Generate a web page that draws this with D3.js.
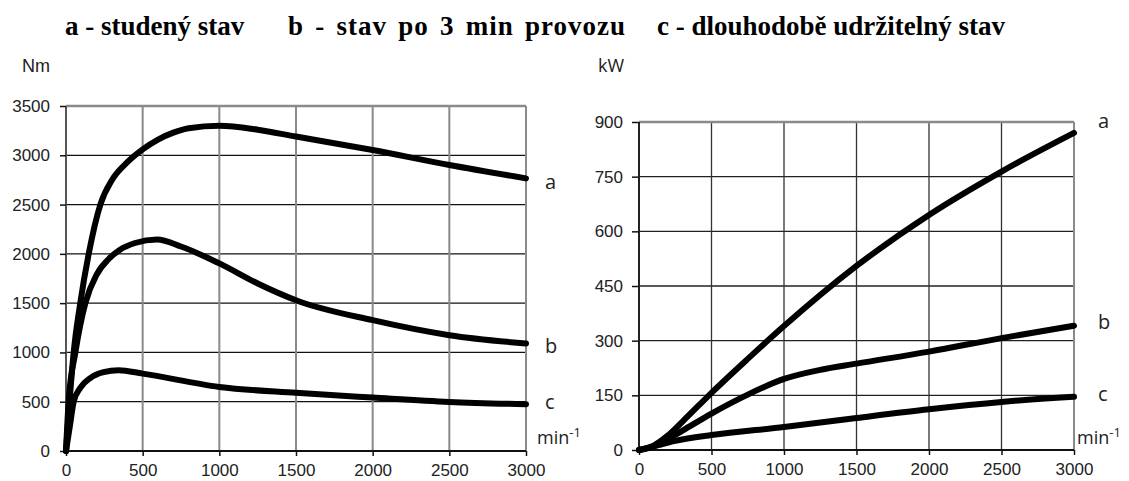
<!DOCTYPE html>
<html>
<head>
<meta charset="utf-8">
<script src="https://cdn.jsdelivr.net/npm/d3@7"></script>
<style>
  body { margin: 0; background: #fff; }
  .tick text { font-family: "Liberation Sans", Arial, sans-serif; font-size: 17px; fill: #222; }
  .unit { font-size: 18px; fill: #222; }
  .lbl { font-family: "Open Sans", sans-serif; font-size: 20px; fill: #222; }
  .title { font-family: "Liberation Serif", "Times New Roman", serif; font-weight: bold; font-size: 27px; fill: #000; }
</style>
</head>
<body>
<div id="chart"></div>
<script>
// data
var rpmTicks = [0, 500, 1000, 1500, 2000, 2500, 3000];
var torqueTicks = [0, 500, 1000, 1500, 2000, 2500, 3000, 3500];
var powerTicks = [0, 150, 300, 450, 600, 750, 900];

var titles = ["a - studený stav", "b - stav po 3 min provozu", "c - dlouhodobě udržitelný stav"];
var seriesNames = ["a", "b", "c"];

// torque [rpm, Nm]
var torqueA = [[0,0],[23,500],[50,1000],[93,1500],[148,2000],[224,2500],[300,2750],[400,2930],[500,3060],[600,3160],[700,3230],[800,3275],[1000,3300],[1250,3260],[1500,3190],[2000,3053],[2500,2901],[3000,2766]];
var torqueB = [[0,0],[17,500],[61,1000],[126,1500],[200,1790],[280,1950],[350,2040],[450,2110],[594,2146],[750,2075],[1000,1903],[1250,1700],[1500,1530],[2000,1327],[2500,1175],[3000,1090]];
var torqueC = [[0,0],[25,250],[50,500],[93,640],[158,740],[245,800],[343,820],[500,785],[1000,650],[1500,590],[2000,542],[2500,498],[3000,474]];

// power [rpm, kW]
var powerA = [[0,0],[100,12],[200,40],[300,78],[500,157],[750,250],[1000,340],[1500,505],[2000,645],[2500,764],[3000,870]];
var powerB = [[0,0],[100,9],[200,30],[300,53],[500,100],[750,152],[1000,195],[1250,220],[1500,237],[2000,270],[2500,307],[3000,341]];
var powerC = [[0,0],[100,10],[250,25],[500,41],[1000,63],[1500,88],[2000,112],[2500,132],[3000,146]];

var svgWidth = 1129;
var svgHeight = 481;

var svg = d3
  .select("#chart")
  .append("svg")
  .attr("width", svgWidth)
  .attr("height", svgHeight);

// title line, three parts (middle one is set a bit looser in the picture)
var titleX = [65, 288, 657];
var titleLetterGap = [0, 1, 0];
var titleWordGap = [0, 3.5, 0];
svg.selectAll("text.title")
  .data(titles)
  .enter()
  .append("text")
  .attr("class", "title")
  .attr("x", function(d, i) { return titleX[i]; })
  .attr("y", 35)
  .style("letter-spacing", function(d, i) { return titleLetterGap[i] + "px"; })
  .style("word-spacing", function(d, i) { return titleWordGap[i] + "px"; })
  .text(function(d) { return d; });

function drawPanel(opt) {
  var x = d3.scaleLinear().domain([0, 3000]).range([opt.left, opt.right]);
  var y = d3.scaleLinear().domain([0, opt.yMax]).range([opt.bottom, opt.top]);

  var g = svg.append("g");

  // horizontal grid
  g.selectAll("line.hgrid")
    .data(opt.yTicks.slice(1, -1))
    .enter()
    .append("line")
    .attr("x1", opt.left).attr("x2", opt.right)
    .attr("y1", function(d) { return y(d); })
    .attr("y2", function(d) { return y(d); })
    .attr("stroke", opt.hColor)
    .attr("stroke-width", 1.3);

  // vertical grid
  g.selectAll("line.vgrid")
    .data(rpmTicks.slice(1, -1))
    .enter()
    .append("line")
    .attr("x1", function(d) { return x(d); })
    .attr("x2", function(d) { return x(d); })
    .attr("y1", opt.top).attr("y2", opt.bottom)
    .attr("stroke", opt.vColor)
    .attr("stroke-width", opt.vWidth);

  // frame: top + right gray, left + bottom darker
  g.append("line")
    .attr("x1", opt.left).attr("x2", opt.right)
    .attr("y1", opt.top).attr("y2", opt.top)
    .attr("stroke", "#8a8a8a").attr("stroke-width", 2.5);
  g.append("line")
    .attr("x1", opt.right).attr("x2", opt.right)
    .attr("y1", opt.top).attr("y2", opt.bottom)
    .attr("stroke", "#8a8a8a").attr("stroke-width", 2);
  g.append("line")
    .attr("x1", opt.left).attr("x2", opt.left)
    .attr("y1", opt.top).attr("y2", opt.bottom)
    .attr("stroke", opt.leftColor).attr("stroke-width", 2);
  g.append("line")
    .attr("x1", opt.left).attr("x2", opt.right)
    .attr("y1", opt.bottom).attr("y2", opt.bottom)
    .attr("stroke", "#111").attr("stroke-width", 2);

  // axes (ticks + labels)
  var xAxis = d3.axisBottom(x).tickValues(rpmTicks).tickSize(5).tickPadding(8).tickFormat(d3.format("d"));
  var yAxis = d3.axisLeft(y).tickValues(opt.yTicks).tickSize(opt.tickLen).tickPadding(opt.tickPad).tickFormat(d3.format("d"));

  var gx = g.append("g")
    .attr("transform", "translate(0," + opt.bottom + ")")
    .call(xAxis);
  var gy = g.append("g")
    .attr("transform", "translate(" + opt.left + ",0)")
    .call(yAxis);
  gx.select(".domain").remove();
  gy.select(".domain").remove();
  gx.selectAll(".tick line").attr("stroke", "#111").attr("stroke-width", 1.5);
  gy.selectAll(".tick line").attr("stroke", "#111").attr("stroke-width", 1.5);

  // curves
  var line = d3.line()
    .x(function(d) { return x(d[0]); })
    .y(function(d) { return y(d[1]); })
    .curve(d3.curveMonotoneX);

  g.selectAll("path.curve")
    .data(opt.series)
    .enter()
    .append("path")
    .attr("class", "curve")
    .attr("d", line)
    .attr("fill", "none")
    .attr("stroke", "#000")
    .attr("stroke-width", 6)
    .attr("stroke-linecap", "round")
    .attr("stroke-linejoin", "round");

  // series letters
  g.selectAll("text.lbl")
    .data(seriesNames)
    .enter()
    .append("text")
    .attr("class", "lbl")
    .attr("x", opt.right + opt.lblDx)
    .attr("y", function(d, i) { return opt.lblY[i]; })
    .text(function(d) { return d; });

  // unit labels
  g.append("text")
    .attr("class", "unit")
    .attr("x", opt.unitX)
    .attr("y", 72)
    .style("font-family", opt.unitFont)
    .text(opt.unit);

  var mt = g.append("text")
    .attr("class", "lbl")
    .style("font-size", "18px")
    .attr("x", opt.right + opt.minDx)
    .attr("y", 444);
  mt.append("tspan").text("min");
  mt.append("tspan").attr("dy", -7).style("font-size", "13px").text("-1");
}

drawPanel({
  left: 66, right: 526, top: 106, bottom: 451,
  yMax: 3500, yTicks: torqueTicks,
  series: [torqueA, torqueB, torqueC],
  hColor: "#111", vColor: "#8a8a8a", vWidth: 2, leftColor: "#555",
  tickLen: 6, tickPad: 10,
  lblDx: 19, lblY: [189, 353, 409],
  unit: "Nm", unitX: 22, unitFont: "Liberation Sans",
  minDx: 11
});

drawPanel({
  left: 639, right: 1074, top: 122, bottom: 450,
  yMax: 900, yTicks: powerTicks,
  series: [powerA, powerB, powerC],
  hColor: "#222", vColor: "#333", vWidth: 1.3, leftColor: "#222",
  tickLen: 7, tickPad: 9,
  lblDx: 24, lblY: [128, 329, 401],
  unit: "kW", unitX: 598, unitFont: "Open Sans",
  minDx: 3
});
</script>
</body>
</html>
